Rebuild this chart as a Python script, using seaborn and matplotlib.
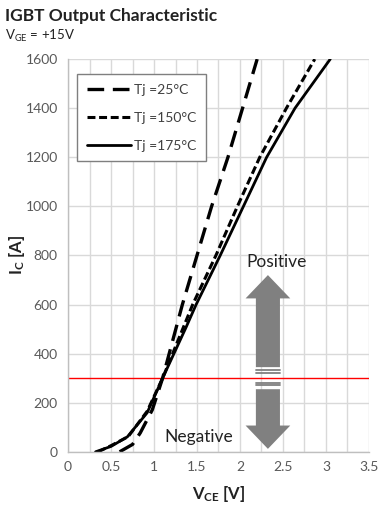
#!/usr/bin/env python3
"""IGBT output characteristic, Ic vs Vce at three junction temperatures."""
import numpy as np
import pandas as pd
import matplotlib
matplotlib.use("Agg")
import matplotlib.pyplot as plt
from matplotlib.patches import FancyArrow
import seaborn as sns

# --- data ---
vce_25 = [0.60, 0.75, 0.84, 0.98, 1.10, 1.33, 1.50, 1.67, 1.86, 2.03, 2.20]
ic_25 = [0, 30, 77, 171, 300, 600, 800, 1000, 1200, 1400, 1600]

vce_150 = [0.35, 0.50, 0.70, 0.92, 1.10, 1.45, 1.72, 1.97, 2.23, 2.54, 2.87]
ic_150 = [0, 25, 62, 165, 300, 600, 800, 1000, 1200, 1400, 1600]

vce_175 = [0.32, 0.50, 0.69, 0.92, 1.10, 1.37, 1.49, 1.77, 2.04, 2.31, 2.64, 3.05]
ic_175 = [0, 22, 61, 159, 300, 505, 600, 800, 1000, 1200, 1400, 1600]

labels = ["Tj =25°C", "Tj =150°C", "Tj =175°C"]
threshold = 300

sns.set_style("whitegrid")
plt.rcParams["font.family"] = ["Lato", "DejaVu Sans"]
plt.rcParams["mathtext.fontset"] = "custom"
plt.rcParams["mathtext.rm"] = "Lato"
plt.rcParams["mathtext.bf"] = "Lato:bold"

fig = plt.figure(figsize=(3.78, 5.14), dpi=100)
ax = fig.add_axes([0.180, 0.121, 0.796, 0.764])

styles = [dict(linestyle=(0, (5, 2.6)), lw=2.4),
          dict(linestyle=(0, (2.6, 1.2)), lw=2.2),
          dict(linestyle="-", lw=2.0)]
for x, y, lab, st in zip([vce_25, vce_150, vce_175], [ic_25, ic_150, ic_175], labels, styles):
    df = pd.DataFrame({"vce": x, "ic": y})
    sns.lineplot(data=df, x="vce", y="ic", ax=ax, color="black", label=lab,
                 estimator=None, sort=False, **st)

ax.axhline(threshold, color="red", lw=1.0, zorder=1)

# double arrow (positive / negative temperature coefficient)
xc = 2.325
grey = "#808080"
ax.add_patch(FancyArrow(xc, 345, 0, 375, width=0.28, head_width=0.52, head_length=95,
                        length_includes_head=True, color=grey, lw=0, zorder=3))
ax.add_patch(FancyArrow(xc, 255, 0, -243, width=0.28, head_width=0.52, head_length=95,
                        length_includes_head=True, color=grey, lw=0, zorder=3))
for yy in [334, 322, 281, 271]:
    ax.plot([xc - 0.14, xc + 0.14], [yy, yy], color=grey, lw=1.3, zorder=3)

ax.text(2.43, 774, "Positive", ha="center", va="center", fontsize=12.5, color="#222222")
ax.text(1.52, 61, "Negative", ha="center", va="center", fontsize=12.5, color="#222222")

ax.set_xlim(0, 3.5)
ax.set_ylim(0, 1600)
ax.set_xticks(np.arange(0, 3.51, 0.5))
ax.set_xticklabels(["0", "0.5", "1", "1.5", "2", "2.5", "3", "3.5"])
ax.set_xticks(np.arange(0, 3.51, 0.25), minor=True)
ax.set_yticks(np.arange(0, 1601, 200))
ax.set_yticks(np.arange(0, 1601, 100), minor=True)
ax.grid(True, which="major", color="#d9d9d9", lw=1.0)
ax.grid(True, which="minor", axis="x", color="#d9d9d9", lw=1.0)
ax.tick_params(axis="both", which="both", colors="#bfbfbf", labelcolor="#595959",
               labelsize=10, width=1, direction="out")
ax.tick_params(axis="x", which="both", length=3)
ax.tick_params(axis="y", which="both", length=4)
for side in ["top", "right"]:
    ax.spines[side].set_visible(False)
for side in ["left", "bottom"]:
    ax.spines[side].set_color("#bfbfbf")
    ax.spines[side].set_linewidth(1.0)

ax.set_xlabel(r"$\mathbf{V_{CE}}$ [V]", fontsize=12, fontweight="bold", color="#222222", labelpad=8)
ax.set_ylabel(r"$\mathbf{I_{C}}$ [A]", fontsize=12, fontweight="bold", color="#222222")
ax.yaxis.set_label_coords(-0.135, 0.5)

leg = ax.legend(loc="upper left", bbox_to_anchor=(0.03, 0.962), frameon=True, fancybox=False,
                edgecolor="#7f7f7f", framealpha=1, fontsize=10, handlelength=3.2,
                handletextpad=0.2, labelspacing=1.15, borderpad=0.7, borderaxespad=0)
leg.get_frame().set_linewidth(1.0)
for t in leg.get_texts():
    t.set_color("#404040")

fig.text(0.013, 0.968, "IGBT Output Characteristic", fontsize=12.5, fontweight="bold",
         color="#222222", va="center")
fig.text(0.013, 0.930, r"V$_{\mathrm{GE}}$ = +15V", fontsize=9.5, color="#222222", va="center")

fig.savefig("out.png", dpi=100)
plt.close(fig)
